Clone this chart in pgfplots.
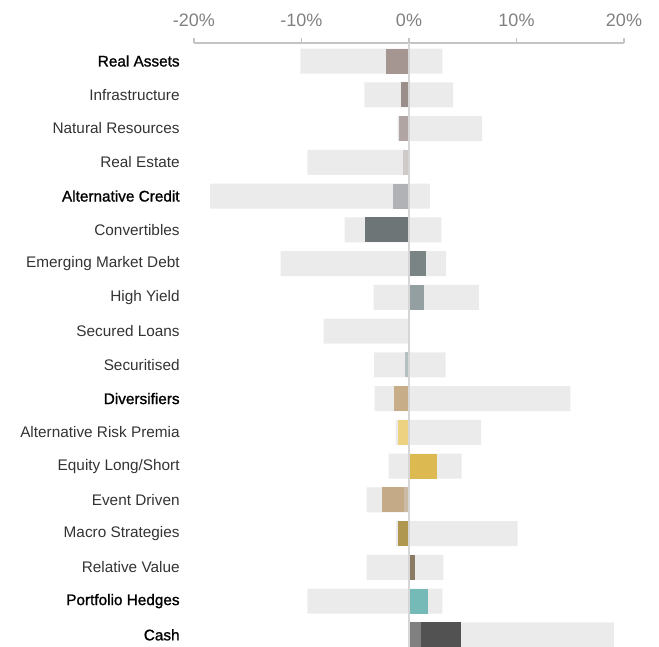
\documentclass[border=0pt]{standalone}
\usepackage{pgfplots}
\pgfplotsset{compat=1.18}
\usepackage{fontspec}
\setmainfont{Liberation Sans}
\newfontfamily\semib[FakeBold=1.2]{Liberation Sans}
\newcommand{\grp}[1]{{\semib\color{black}#1}}

\definecolor{rangegray}{HTML}{EBEBEB}
\definecolor{zerogray}{HTML}{D6D6D6}
\definecolor{axisgray}{HTML}{C4C4C4}
\definecolor{tickgray}{HTML}{808080}
\definecolor{labelgray}{HTML}{333333}
\definecolor{cRA}{HTML}{A69692}
\definecolor{cInf}{HTML}{9B8F8C}
\definecolor{cNR}{HTML}{B0A5A3}
\definecolor{cRE}{HTML}{CFCAC8}
\definecolor{cAC}{HTML}{B1B2B5}
\definecolor{cConv}{HTML}{6E7576}
\definecolor{cEMD}{HTML}{7B8485}
\definecolor{cHY}{HTML}{939FA0}
\definecolor{cSec}{HTML}{B4BFC1}
\definecolor{cDiv}{HTML}{C7AE89}
\definecolor{cARP}{HTML}{EDD282}
\definecolor{cELS}{HTML}{DCBA51}
\definecolor{cED}{HTML}{C5AA88}
\definecolor{cEDl}{HTML}{CBBBA6}
\definecolor{cMac}{HTML}{B0974F}
\definecolor{cRV}{HTML}{8B7A64}
\definecolor{cPH}{HTML}{76BAB7}
\definecolor{cCashL}{HTML}{808080}
\definecolor{cCashD}{HTML}{525252}

% range of each row: lowest and highest position (%)
\pgfplotstableread{
row lo hi
0  -10.1  3.1
1  -4.15  4.1
2  -1.05  6.8
3  -9.45  0
4  -18.5  1.95
5  -6.0   3.0
6  -11.95 3.45
7  -3.3   6.5
8  -7.95  0
9  -3.25  3.4
10 -3.2   15.0
11 -1.25  6.7
12 -1.9   4.9
13 -3.95  0
14 -1.2   10.1
15 -3.95  3.2
16 -9.45  3.1
17 0      19.05
}\ranges

\begin{document}
\begin{tikzpicture}
\begin{axis}[
    name=ax, at={(0,0)}, anchor=north west,
    scale only axis,
    width=322.5pt, height=452.25pt,
    xmin=-20, xmax=20,
    ymin=-0.533, ymax=17.33,
    y dir=reverse,
    axis x line*=top,
    axis y line*=left,
    x axis line style={draw=axisgray, line width=1pt, -},
    y axis line style={draw=none},
    xtick={-20,-10,0,10,20},
    xticklabels={-20\%,-10\%,0\%,10\%,20\%},
    xtick style={draw=axisgray, line width=1pt},
    tick align=outside,
    major tick length=3.75pt,
    xticklabel style={font=\fontsize{13.5}{16}\selectfont, text=tickgray, yshift=5pt},
    ytick={0,...,17},
    yticklabels={\grp{Real Assets},Infrastructure,Natural Resources,Real Estate,
      \grp{Alternative Credit},Convertibles,Emerging Market Debt,High Yield,
      Secured Loans,Securitised,\grp{Diversifiers},Alternative Risk Premia,
      Equity Long/Short,Event Driven,Macro Strategies,Relative Value,
      \grp{Portfolio Hedges},\grp{Cash}},
    ytick style={draw=none},
    yticklabel style={font=\fontsize{11.5}{14}\selectfont, text=labelgray, xshift=-3.5pt},
    bar/.style={xbar, bar width=18.75pt, bar shift=0pt, draw=none, forget plot},
]
% ranges
\addplot[bar, fill=rangegray] table[x=lo, y=row] {\ranges};
\addplot[bar, fill=rangegray] table[x=hi, y=row] {\ranges};

% current positions
\addplot[bar, fill=cRA]   coordinates {(-2.1,0)};
\addplot[bar, fill=cInf]  coordinates {(-0.72,1)};
\addplot[bar, fill=cNR]   coordinates {(-0.9,2)};
\addplot[bar, fill=cRE]   coordinates {(-0.53,3)};
\addplot[bar, fill=cAC]   coordinates {(-1.46,4)};
\addplot[bar, fill=cConv] coordinates {(-4.06,5)};
\addplot[bar, fill=cEMD]  coordinates {(1.61,6)};
\addplot[bar, fill=cHY]   coordinates {(1.42,7)};
\addplot[bar, fill=cSec]  coordinates {(-0.34,9)};
\addplot[bar, fill=cDiv]  coordinates {(-1.37,10)};
\addplot[bar, fill=cARP]  coordinates {(-1.0,11)};
\addplot[bar, fill=cELS]  coordinates {(2.63,12)};
\addplot[bar, fill=cED]   coordinates {(-2.48,13)};
\addplot[bar, fill=cEDl]  coordinates {(-0.5,13)};
\addplot[bar, fill=cMac]  coordinates {(-1.0,14)};
\addplot[bar, fill=cRV]   coordinates {(0.58,15)};
\addplot[bar, fill=cPH]   coordinates {(1.79,16)};
\addplot[bar, fill=cCashD] coordinates {(4.86,17)};
\addplot[bar, fill=cCashL] coordinates {(1.14,17)};

% zero line
\addplot[draw=zerogray, line width=1.5pt, forget plot] coordinates {(0,-0.533) (0,17.4)};
\end{axis}
\pgfresetboundingbox
\path (-145.5pt,32.25pt) rectangle (348.75pt,-452.25pt);
\end{tikzpicture}
\end{document}
